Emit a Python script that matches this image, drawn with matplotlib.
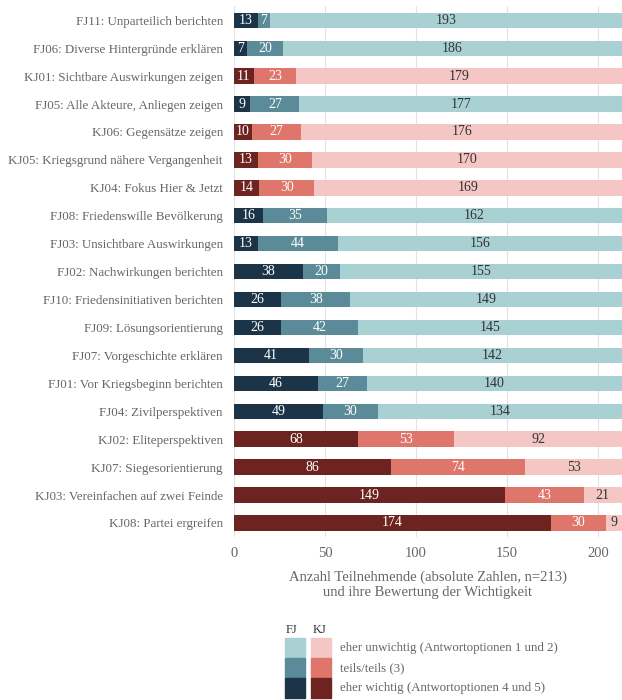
import matplotlib.pyplot as plt
from matplotlib.patches import Rectangle

plt.rcParams['font.family'] = ['Liberation Serif', 'DejaVu Serif']

# von oben nach unten
items = [
    "FJ11: Unparteilich berichten",
    "FJ06: Diverse Hintergründe erklären",
    "KJ01: Sichtbare Auswirkungen zeigen",
    "FJ05: Alle Akteure, Anliegen zeigen",
    "KJ06: Gegensätze zeigen",
    "KJ05: Kriegsgrund nähere Vergangenheit",
    "KJ04: Fokus Hier & Jetzt",
    "FJ08: Friedenswille Bevölkerung",
    "FJ03: Unsichtbare Auswirkungen",
    "FJ02: Nachwirkungen berichten",
    "FJ10: Friedensinitiativen berichten",
    "FJ09: Lösungsorientierung",
    "FJ07: Vorgeschichte erklären",
    "FJ01: Vor Kriegsbeginn berichten",
    "FJ04: Zivilperspektiven",
    "KJ02: Eliteperspektiven",
    "KJ07: Siegesorientierung",
    "KJ03: Vereinfachen auf zwei Feinde",
    "KJ08: Partei ergreifen",
]
wichtig = [13, 7, 11, 9, 10, 13, 14, 16, 13, 38, 26, 26, 41, 46, 49, 68, 86, 149, 174]
teils = [7, 20, 23, 27, 27, 30, 30, 35, 44, 20, 38, 42, 30, 27, 30, 53, 74, 43, 30]
unwichtig = [193, 186, 179, 177, 176, 170, 169, 162, 156, 155, 149, 145, 142, 140, 134, 92, 53, 21, 9]

farben = {
    "FJ": ["#1b3447", "#5b8b98", "#a9d1d3"],
    "KJ": ["#6d2420", "#df766c", "#f4c6c4"],
}
textfarben = ["white", "white", "#333333"]
grau = "#666666"

fig = plt.figure(figsize=(6.22, 7), dpi=100)
ax = fig.add_axes([0.376, 0.233, 0.624, 0.758])

n = len(items)
for i, name in enumerate(items):
    y = n - 1 - i
    cols = farben[name[:2]]
    left = 0
    for k, val in enumerate([wichtig[i], teils[i], unwichtig[i]]):
        ax.barh(y, val, left=left, height=0.55, color=cols[k], zorder=2)
        ax.text(left + val / 2, y, str(val), ha="center", va="center",
                fontsize=10, color=textfarben[k], zorder=3)
        left += val

ax.set_xlim(0, 213)
ax.set_ylim(-0.5, n - 0.5)
ax.set_yticks(range(n))
ax.set_yticklabels(items[::-1], fontsize=9.4, color=grau)
ax.set_xticks([0, 50, 100, 150, 200])
ax.tick_params(axis="x", colors=grau, labelsize=10.5, length=0, pad=7)
ax.tick_params(axis="y", length=0, pad=8)
ax.grid(axis="x", color="#e3e3e3", linewidth=0.8, zorder=0)
for s in ax.spines.values():
    s.set_visible(False)
ax.set_xlabel("Anzahl Teilnehmende (absolute Zahlen, n=213)\nund ihre Bewertung der Wichtigkeit",
              fontsize=10.5, color=grau, labelpad=8)

# Legende
stufen = ["eher unwichtig (Antwortoptionen 1 und 2)", "teils/teils (3)",
          "eher wichtig (Antwortoptionen 4 und 5)"]
W, H = 622, 700
fig.text(286 / W, 1 - 630 / H, "FJ", fontsize=9, color="#333333", va="center")
fig.text(313 / W, 1 - 630 / H, "KJ", fontsize=9, color="#333333", va="center")
for j, lab in enumerate(stufen):
    y0 = 638 + j * 20
    fig.add_artist(Rectangle((285 / W, 1 - (y0 + 20) / H), 20 / W, 20 / H,
                             color=farben["FJ"][2 - j], transform=fig.transFigure))
    fig.add_artist(Rectangle((311 / W, 1 - (y0 + 20) / H), 20 / W, 20 / H,
                             color=farben["KJ"][2 - j], transform=fig.transFigure))
    fig.text(340 / W, 1 - (y0 + 10) / H, lab, fontsize=9.3, color=grau, va="center")

fig.savefig("out.png", dpi=100)
